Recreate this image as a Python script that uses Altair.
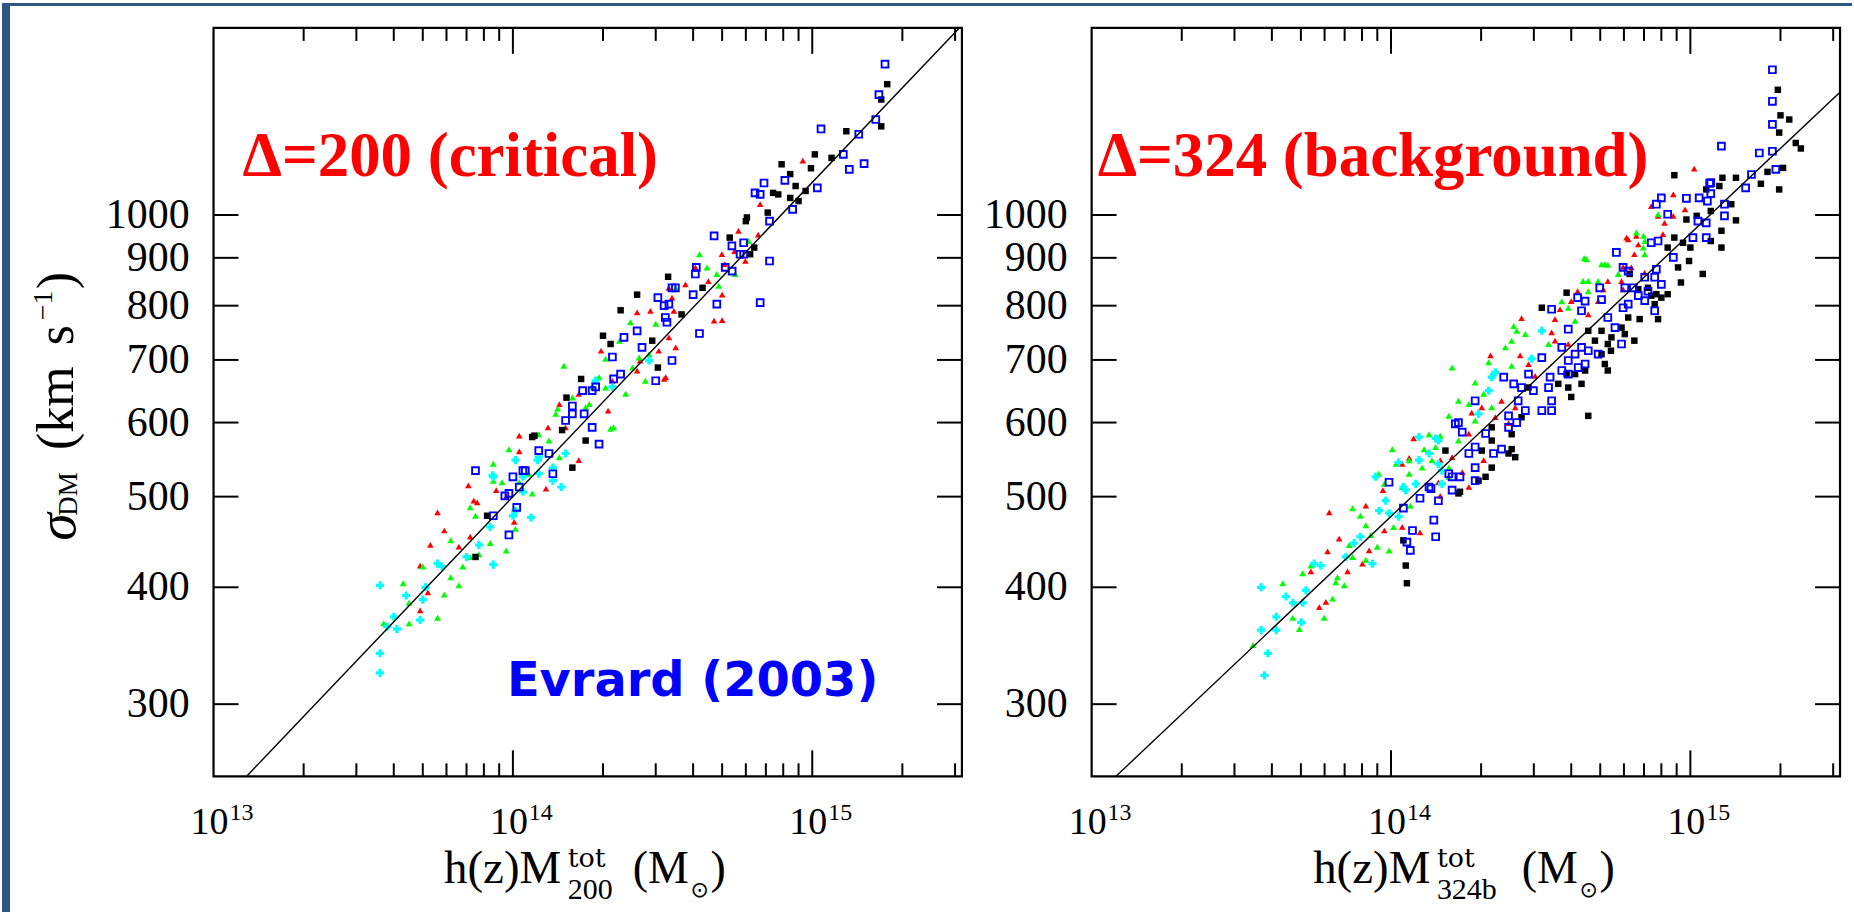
import altair as alt
import pandas as pd

# ---------------- data: (M in 1e14 Msun, sigma_DM in km/s) ----------------
L_BLACK = [(17.8,1380),(17.0,1329),(17.0,1244),(13.0,1229),(11.6,1151),(10.2,1161),(7.9,1133),(9.9,1122),
           (8.44,1106),(8.8,1074),(9.5,1061),(7.4,1056),(8.44,1043),(7.7,1052),(9.0,1035),(7.1,1006),
           (6.05,994),(6.0,985),(5.3,946),(6.4,923),(6.2,908),(3.3,859),(4.3,836),(2.6,822),(2.29,791),
           (3.66,783),(2.0,743),(2.12,728),(3.05,687),(1.69,668),(1.51,638),(1.18,581),(1.58,537),
           (1.75,574),(1.46,589),(1.16,579),(0.82,477),(0.75,431),(2.92,734)]
L_BLUE = [(17.5,1450),(16.7,1345),(16.3,1265),(10.7,1236),(14.3,1220),(12.7,1161),(14.9,1135),(13.3,1119),
          (6.9,1082),(8.1,1089),(10.4,1069),(6.44,1056),(6.7,1052),(8.6,1014),(7.2,985),(4.7,950),(5.9,934),
          (5.39,927),(7.2,893),(5.9,908),(5.74,908),(5.4,871),(5.12,879),(4.1,879),(4.07,865),(3.49,836),
          (4.0,822),(4.8,803),(6.7,806),(3.05,816),(3.2,800),(3.32,803),(4.2,747),(3.27,768),(2.6,752),
          (2.35,740),(2.15,705),(2.17,668),(3.0,665),(1.89,655),(1.71,649),(1.58,625),(1.73,613),(1.50,603),
          (1.84,593),(1.94,569),(1.22,560),(1.08,533),(1.1,533),(1.36,529),(0.75,533),(1.0,525),(0.97,504),
          (0.94,501),(1.03,487),(0.86,477),(0.97,455),
          (3.40,836),(3.23,777),(2.70,722),(3.40,699),(2.29,676),(1.84,649),(1.58,613),(1.32,556),(1.05,512)]
L_RED = [(9.3,1143),(6.7,1027),(5.67,962),(6.6,953),(5.5,915),(4.99,908),(5.98,893),(5.1,886),(4.07,879),
         (4.5,850),(3.77,843),(3.32,836),(5.0,822),(3.4,816),(2.88,790),(2.6,787),(4.7,771),(5.0,772),
         (3.5,722),(1.97,716),(2.66,699),(2.6,682),(3.24,671),(3.2,668),(1.43,628),(2.08,618),(1.31,593),
         (1.05,581),(1.05,559),(1.66,547),(0.71,514),(0.56,481),(1.29,510),(0.88,508),(0.74,495),(0.76,493),
         (1.01,470),(0.59,460),(0.72,453),(0.53,444),(0.66,442),(0.49,422),(0.52,395),(0.49,378),
         (3.45,790),(3.32,740),(3.07,716),(2.15,665),(1.66,644),(1.50,593),(1.22,551),(0.95,500)]
L_GREEN = [(6.13,938),(4.2,908),(4.45,879),(4.8,865),(5.53,865),(4.87,840),(3.5,836),(2.47,768),(2.27,734),
           (2.85,710),(2.04,702),(1.48,690),(1.94,671),(2.77,665),(1.85,655),(2.38,644),(1.58,638),(1.75,623),
           (1.41,621),(1.39,613),(2.17,593),(2.12,591),(1.22,583),(0.97,562),(1.43,551),(0.86,542),(0.86,520),
           (1.05,518),(0.92,518),(1.16,504),(0.72,487),(0.75,477),(1.02,462),(0.62,449),(0.84,446),(0.95,438),
           (0.77,434),(0.72,431),(0.68,421),(0.50,421),(0.62,410),(0.43,404),(0.66,402),(0.59,393),(0.45,385),
           (0.56,371),(0.45,366),(0.37,366),
           (3.0,765),(2.64,704),(2.51,687),(2.04,654),(1.80,628),(1.32,574),(1.13,529)]
L_CYAN = [(2.85,699),(1.89,665),(2.15,655),(1.50,556),(1.22,551),(1.21,547),(1.02,547),(1.36,537),(0.855,527),
          (1.08,525),(0.86,525),(1.36,520),(1.45,512),(1.08,506),(1.02,483),(1.0,477),(1.15,475),(0.84,464),
          (0.77,444),(0.70,431),(0.58,421),(0.56,424),(0.86,423),(0.51,400),(0.36,402),(0.44,392),(0.50,388),
          (0.40,372),(0.49,369),(0.38,363),(0.41,361),(0.36,340),(0.36,324),(1.22,529)]

R_BLACK = [(19.6,1361),(20.0,1278),(21.4,1265),(19.8,1225),(22.5,1194),(23.4,1178),(20.4,1123),(18.1,1112),
           (8.84,1103),(12.8,1096),(14.2,1096),(17.2,1080),(12.5,1074),(19.8,1065),(11.3,1065),(13.7,1027),
           (11.7,1010),(10.5,998),(9.7,989),(14.2,987),(12.7,962),(8.84,946),(11.7,938),(9.45,934),(12.7,923),
           (10.0,923),(8.4,923),(9.9,893),(9.1,879),(11.0,865),(6.27,865),(9.3,847),(6.7,833),(3.86,826),
           (8.4,823),(7.7,823),(7.4,820),(7.6,803),(3.19,796),(6.2,777),(6.77,774),(7.8,774),(4.56,752),
           (5.05,752),(6.04,746),(5.45,740),(4.8,734),(5.3,728),(5.43,716),(5.18,693),(5.3,682),(4.12,676),
           (3.86,676),(4.33,660),(3.62,660),(4.0,639),(4.56,610),(2.17,593),(2.53,583),(2.17,574),(2.53,562),
           (2.01,560),(1.52,560),(2.6,551),(2.17,537),(2.07,525),(1.7,506),(1.68,504),(1.1,449),(1.12,422),
           (1.13,404),
           (7.22,836),(8.0,816),(5.89,758),(6.5,734),(5.05,710),(4.45,682),(3.91,654),(2.88,654),(2.73,608),
           (2.47,556),(1.96,520)]
R_BLUE = [(18.8,1430),(18.8,1323),(18.8,1250),(12.7,1185),(18.8,1170),(17.0,1165),(19.3,1119),(16.0,1105),
          (11.7,1083),(11.6,1081),(15.3,1069),(11.7,1054),(10.7,1043),(9.7,1042),(8.0,1043),(11.4,1035),
          (13.0,1027),(7.7,1027),(8.4,1002),(13.0,998),(10.6,985),(11.3,981),(11.3,946),(10.2,946),(7.8,938),
          (7.4,934),(5.66,912),(8.77,901),(5.96,879),(7.7,875),(6.2,871),(7.04,858),(7.6,858),(8.0,843),
          (6.45,836),(6.04,836),(4.98,836),(7.22,829),(6.7,820),(4.2,816),(5.05,812),(4.45,809),(6.2,803),
          (5.96,796),(3.44,793),(4.33,790),(7.6,790),(5.3,777),(3.91,755),(5.89,728),(4.92,710),(4.12,710),
          (3.91,699),(4.45,693),(3.72,682),(2.88,676),(3.4,671),(2.38,671),(2.57,660),(2.99,649),(3.44,633),
          (1.91,633),(3.44,618),(3.19,618),(2.47,610),(1.68,600),(2.63,600),(1.64,598),(2.47,593),(1.73,586),
          (1.91,565),(2.34,562),(2.2,556),(1.91,537),(1.56,529),(1.7,525),(1.6,525),(1.91,520),(0.985,518),
          (1.34,512),(1.36,510),(1.25,498),(1.44,495),(1.1,486),(1.39,472),(1.18,460),(1.41,453),(1.13,447),
          (1.16,438),
          (7.04,810),(5.6,758),(4.33,722),(4.56,716),(4.22,687),(3.91,676),(3.36,654),(3.72,722),(3.19,704),
          (2.73,654),(2.66,633),(2.81,618),(2.07,584),(1.82,556),(1.6,508)]
R_RED = [(10.3,1121),(8.77,1052),(7.4,1022),(9.6,1014),(7.8,998),(8.77,998),(8.2,981),(8.1,954),(6.6,950),
         (6.12,946),(6.2,942),(6.7,930),(6.5,908),(5.96,880),(6.35,879),(7.04,868),(5.3,850),(5.89,850),
         (5.96,833),(5.12,833),(4.2,829),(4.0,809),(4.92,809),(3.67,793),(4.56,783),(2.73,776),(3.53,774),
         (3.44,749),(2.7,708),(2.15,708),(3.03,673),(2.84,655),(2.34,633),(2.01,623),(1.86,615),(2.47,599),
         (1.19,577),(1.15,550),(2.04,547),(1.46,547),(1.09,542),(1.73,531),(1.44,518),(0.94,508),(1.46,501),
         (0.824,489),(0.622,481),(1.09,464),(0.95,460),(1.25,458),(0.671,451),(0.845,438),(0.614,437),
         (0.803,424),(0.716,416),(0.54,416),(0.606,386),(0.576,381),
         (3.53,734),(3.91,728),(2.88,693),(2.60,623),(2.23,608),(1.82,584),(1.6,551),(1.82,512)]
R_GREEN = [(7.8,1002),(6.6,958),(6.97,950),(7.04,938),(6.96,923),(7.04,908),(4.42,899),(4.5,897),(5.18,886),
           (5.05,886),(5.3,885),(5.74,865),(4.92,850),(4.56,850),(4.38,850),(4.56,829),(3.72,809),(3.91,796),
           (4.12,771),(2.57,761),(3.19,755),(2.63,752),(2.81,746),(2.53,734),(2.41,722),(2.12,696),(2.53,690),
           (1.6,687),(1.91,662),(2.04,644),(1.68,633),(1.82,628),(2.17,623),(1.56,610),(1.34,583),(1.46,581),
           (1.41,565),(1.01,562),(1.29,562),(1.15,547),(1.37,547),(1.04,542),(1.56,537),(1.27,537),(1.15,529),
           (0.91,529),(1.56,525),(0.95,516),(1.09,512),(1.16,489),(0.744,486),(0.79,477),(0.824,466),(1.02,464),
           (0.856,455),(0.9,442),(0.725,444),(0.985,438),(0.744,431),(0.824,428),(0.54,422),(0.507,414),
           (0.662,410),(0.654,405),(0.435,404),(0.698,402),(0.638,389),(0.598,371),(0.47,371),(0.494,361),
           (0.346,347),(3.36,728),(1.91,603),(1.68,574)]
R_CYAN = [(3.19,752),(2.95,702),(2.23,679),(2.17,671),(2.12,649),(1.96,613),(1.41,577),(1.24,579),(1.44,574),
          (1.34,556),(1.06,544),(1.24,547),(1.44,542),(1.48,533),(0.889,525),(1.21,516),(1.48,516),(1.1,512),
          (1.12,508),(0.96,495),(0.912,483),(0.985,480),(1.06,476),(0.79,453),(0.753,446),(0.707,431),
          (0.867,424),(0.554,424),(0.583,422),(0.368,400),(0.52,397),(0.446,391),(0.507,385),(0.47,385),
          (0.414,372),(0.501,367),(0.368,360),(0.414,360),(0.388,340),(0.378,322)]

# fitted relation drawn in each panel (end points)
LINE_L_M = [0.129, 31.0]
LINE_L_S = [251.2, 1585.0]
LINE_R_M = [0.1206, 31.6]
LINE_R_S = [251.2, 1353.0]

X_LABEL_VALUES = [1e13, 1e14, 1e15]
X_LABEL_EXP = ["13", "14", "15"]
X_MAJOR = [1e14, 1e15]
X_MINOR = [2e13, 3e13, 4e13, 5e13, 6e13, 7e13, 8e13, 9e13,
           2e14, 3e14, 4e14, 5e14, 6e14, 7e14, 8e14, 9e14, 2e15, 3e15]
Y_TICKS = [300, 400, 500, 600, 700, 800, 900, 1000]

# ---------------- chart ----------------
W, H = 750, 750
SERIF = "Liberation Serif"
XSC = alt.Scale(type="log", domain=[1e13, 10 ** 15.5], nice=False)
YSC = alt.Scale(type="log", domain=[10 ** 2.4, 10 ** 3.2], nice=False)


def X(f):
    return alt.X(f, type="quantitative", scale=XSC, axis=None)


def Y(f):
    return alt.Y(f, type="quantitative", scale=YSC, axis=None)


STYLE = {
    "black": dict(shape="square", filled=True, size=42, color="#000000"),
    "blue": dict(shape="square", filled=False, size=46, strokeWidth=1.9, color="#0000ff"),
    "red": dict(shape="triangle-up", filled=True, size=44, color="#ff0000"),
    "green": dict(shape="triangle-up", filled=True, size=48, color="#00ff00"),
    "cyan": dict(shape="cross", filled=True, size=66, color="#00ffff"),
}


def pts(rows, key):
    df = pd.DataFrame({"M": [r[0] * 1e14 for r in rows], "sigma": [r[1] for r in rows]})
    return alt.Chart(df).mark_point(opacity=1, **STYLE[key]).encode(x=X("M"), y=Y("sigma"))


def fit_line(ms, ss):
    df = pd.DataFrame({"M": [m * 1e14 for m in ms], "sigma": ss})
    return alt.Chart(df).mark_line(color="black", strokeWidth=1.4).encode(x=X("M"), y=Y("sigma"))


def xticks(vals, length, top):
    df = pd.DataFrame({"v": vals})
    y0, y1 = (0, length) if top else (H, H - length)
    return alt.Chart(df).mark_rule(color="black", strokeWidth=2).encode(
        x=X("v"), y=alt.value(y0), y2=alt.value(y1))


def yticks(vals, length, right):
    df = pd.DataFrame({"v": vals})
    x0, x1 = (W, W - length) if right else (0, length)
    return alt.Chart(df).mark_rule(color="black", strokeWidth=2).encode(
        y=Y("v"), x=alt.value(x0), x2=alt.value(x1))


def txt(s, x, y, size, font=SERIF, align="left", baseline="alphabetic", **kw):
    return alt.Chart(alt.Data(values=[{}])).mark_text(
        text=s, font=font, fontSize=size, align=align, baseline=baseline, **kw
    ).encode(x=alt.value(x), y=alt.value(y))


def axes_layers():
    ylab = alt.Chart(pd.DataFrame({"v": Y_TICKS, "t": [str(v) for v in Y_TICKS]})).mark_text(
        font=SERIF, fontSize=42, align="right", baseline="middle", color="black"
    ).encode(y=Y("v"), x=alt.value(-24), text="t:N")
    xdf = pd.DataFrame({"v": X_LABEL_VALUES, "b": ["10"] * 3, "e": X_LABEL_EXP})
    xbase = alt.Chart(xdf).mark_text(font=SERIF, fontSize=38, align="right", dx=15, color="black").encode(
        x=X("v"), y=alt.value(797), text="b:N")
    xexp = alt.Chart(xdf).mark_text(font=SERIF, fontSize=24, align="left", dx=16, color="black").encode(
        x=X("v"), y=alt.value(787), text="e:N")
    return [
        xticks(X_MAJOR, 26, False), xticks(X_MINOR, 13, False),
        xticks(X_MAJOR, 26, True), xticks(X_MINOR, 13, True),
        yticks(Y_TICKS, 25, False), yticks(Y_TICKS, 25, True),
        ylab, xbase, xexp,
    ]


def points_layers(black, blue, red, green, cyan):
    return [pts(red, "red"), pts(green, "green"), pts(cyan, "cyan"),
            pts(black, "black"), pts(blue, "blue")]


BORDER = "#2D5783"

left_layers = (
    [alt.Chart(alt.Data(values=[{}])).mark_rect(color=BORDER).encode(
        x=alt.value(-212), x2=alt.value(-204), y=alt.value(-25), y2=alt.value(887)),
     alt.Chart(alt.Data(values=[{}])).mark_rect(color=BORDER).encode(
        x=alt.value(-212), x2=alt.value(1854 - 212), y=alt.value(-25), y2=alt.value(-22))]
    + points_layers(L_BLACK, L_BLUE, L_RED, L_GREEN, L_CYAN)
    + [fit_line(LINE_L_M, LINE_L_S)]
    + axes_layers()
    + [
        txt("\u0394=200 (critical)", 29, 148, 63, fontWeight="bold", color="#ff0000"),
        txt("Evrard (2003)", 294, 670, 48, font="DejaVu Sans", fontWeight="bold", color="#0000ff"),
        # x title
        txt("h(z)M", 231, 857, 47),
        txt("tot", 355, 841, 27, font="DejaVu Serif"),
        txt("200", 355, 873, 30),
        txt("(M", 420, 857, 46),
        txt("\u2299", 478, 871, 22, font="DejaVu Sans"),
        txt(")", 498, 857, 46),
        # y title (rotated)
        txt("\u03c3", -139, 500, 56, angle=270, align="center", fontStyle="italic"),
        txt("DM", -137, 467, 27, angle=270, align="center"),
        txt("(km", -141, 423, 52, angle=270),
        txt("s", -141, 318, 52, angle=270),
        txt("\u22121", -162, 293, 28, angle=270),
        txt(")", -141, 262, 52, angle=270),
    ]
)

right_layers = (
    points_layers(R_BLACK, R_BLUE, R_RED, R_GREEN, R_CYAN)
    + [fit_line(LINE_R_M, LINE_R_S)]
    + axes_layers()
    + [
        txt("\u0394=324 (background)", 6, 148, 63, fontWeight="bold", color="#ff0000"),
        txt("h(z)M", 222, 857, 47),
        txt("tot", 346, 841, 27, font="DejaVu Serif"),
        txt("324b", 346, 873, 30),
        txt("(M", 431, 857, 46),
        txt("\u2299", 489, 871, 22, font="DejaVu Sans"),
        txt(")", 509, 857, 46),
    ]
)

left = alt.layer(*left_layers).properties(width=W, height=H)
right = alt.layer(*right_layers).properties(width=W, height=H)

chart = (
    alt.hconcat(left, right, spacing=130, bounds="flush")
    .properties(padding=0, background="white")
    .configure_view(stroke="black", strokeWidth=2.2)
)

chart.save("out.html", embed_options={"renderer": "svg", "actions": False})
